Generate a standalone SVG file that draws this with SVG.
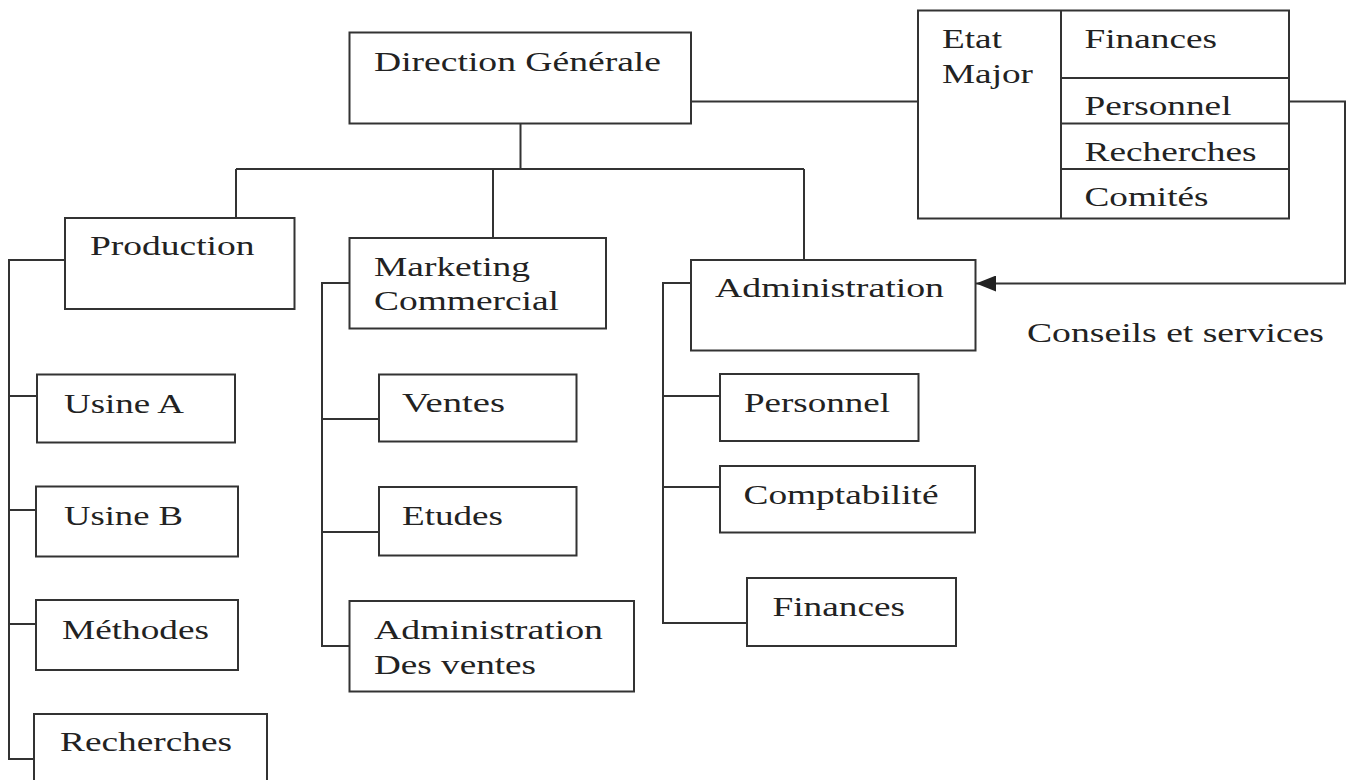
<svg xmlns="http://www.w3.org/2000/svg" width="1352" height="780" viewBox="0 0 1352 780">
<style>
.box{fill:#fff;stroke:#333;stroke-width:2}
.ln{fill:none;stroke:#333;stroke-width:2}
text{font-family:"Liberation Serif","Times New Roman",serif;font-size:28px;fill:#222}
</style>
<defs>
<marker id="arr" markerWidth="20" markerHeight="16" refX="20" refY="8" orient="auto" markerUnits="userSpaceOnUse">
<path d="M0,0 L20,8 L0,16 Z" fill="#222"/>
</marker>
</defs>
<rect width="1352" height="780" fill="#fff"/>
<g id="connectors">
<path class="ln" d="M520.5,123 V169 M236,169 H804 M236,169 V218 M493,169 V238 M804,169 V260"/>
<path class="ln" d="M691,101.5 H918"/>
<path class="ln" d="M65,260 H9 V759 H34 M9,396 H37 M9,510 H36 M9,624 H36"/>
<path class="ln" d="M349.5,283 H322 V646 H349.5 M322,419 H379 M322,532 H379"/>
<path class="ln" d="M691,283 H663 V623 H747 M663,396 H720 M663,487 H720"/>
<path class="ln" d="M1289,101.5 H1345 V283.5 H976" marker-end="url(#arr)"/>
</g>
<g id="direction-generale">
<rect class="box" x="349.5" y="32.5" width="341.5" height="91"/>
<text x="374" y="70.5" textLength="287" lengthAdjust="spacingAndGlyphs">Direction Générale</text>
</g>
<g id="etat-major">
<rect class="box" x="918" y="10.5" width="371" height="208"/>
<path class="ln" d="M1061,10.5 V218.5 M1061,78 H1289 M1061,123.5 H1289 M1061,169 H1289"/>
<text x="942" y="48" textLength="60" lengthAdjust="spacingAndGlyphs">Etat</text>
<text x="942" y="83" textLength="91" lengthAdjust="spacingAndGlyphs">Major</text>
<text x="1084.5" y="48" textLength="132.5" lengthAdjust="spacingAndGlyphs">Finances</text>
<text x="1084.5" y="115" textLength="147" lengthAdjust="spacingAndGlyphs">Personnel</text>
<text x="1084.5" y="160.5" textLength="172" lengthAdjust="spacingAndGlyphs">Recherches</text>
<text x="1084.5" y="206" textLength="124" lengthAdjust="spacingAndGlyphs">Comités</text>
</g>
<g id="production">
<rect class="box" x="65" y="218" width="229.5" height="91"/>
<text x="90" y="255" textLength="164.5" lengthAdjust="spacingAndGlyphs">Production</text>
</g>
<g id="marketing">
<rect class="box" x="349.5" y="238" width="256.5" height="90.5"/>
<text x="374" y="276" textLength="156" lengthAdjust="spacingAndGlyphs">Marketing</text>
<text x="374" y="310" textLength="185" lengthAdjust="spacingAndGlyphs">Commercial</text>
</g>
<g id="administration">
<rect class="box" x="691" y="260" width="284.5" height="90.5"/>
<text x="715" y="296.5" textLength="229" lengthAdjust="spacingAndGlyphs">Administration</text>
</g>
<g id="conseils-label">
<text x="1027" y="341.5" textLength="297" lengthAdjust="spacingAndGlyphs">Conseils et services</text>
</g>
<g id="usine-a">
<rect class="box" x="37" y="374.5" width="198" height="68"/>
<text x="64" y="412.5" textLength="120" lengthAdjust="spacingAndGlyphs">Usine A</text>
</g>
<g id="usine-b">
<rect class="box" x="36" y="486.5" width="202" height="70"/>
<text x="64" y="524.5" textLength="119" lengthAdjust="spacingAndGlyphs">Usine B</text>
</g>
<g id="methodes">
<rect class="box" x="36" y="600" width="202" height="70"/>
<text x="62" y="638.5" textLength="147" lengthAdjust="spacingAndGlyphs">Méthodes</text>
</g>
<g id="recherches">
<rect class="box" x="34" y="714" width="233" height="90"/>
<text x="60" y="751" textLength="172" lengthAdjust="spacingAndGlyphs">Recherches</text>
</g>
<g id="ventes">
<rect class="box" x="379" y="374.5" width="197.5" height="67"/>
<text x="402" y="411.5" textLength="103" lengthAdjust="spacingAndGlyphs">Ventes</text>
</g>
<g id="etudes">
<rect class="box" x="379" y="487" width="197.5" height="68.5"/>
<text x="402" y="524.5" textLength="101" lengthAdjust="spacingAndGlyphs">Etudes</text>
</g>
<g id="admin-ventes">
<rect class="box" x="349.5" y="601" width="284.5" height="90.5"/>
<text x="374" y="638.5" textLength="229" lengthAdjust="spacingAndGlyphs">Administration</text>
<text x="374" y="673.5" textLength="162" lengthAdjust="spacingAndGlyphs">Des ventes</text>
</g>
<g id="personnel">
<rect class="box" x="720" y="374" width="198.5" height="67"/>
<text x="744" y="411.5" textLength="146" lengthAdjust="spacingAndGlyphs">Personnel</text>
</g>
<g id="comptabilite">
<rect class="box" x="720" y="466" width="255" height="66.5"/>
<text x="743.5" y="503.5" textLength="195" lengthAdjust="spacingAndGlyphs">Comptabilité</text>
</g>
<g id="finances">
<rect class="box" x="747" y="578" width="209" height="68"/>
<text x="772.5" y="616" textLength="132.5" lengthAdjust="spacingAndGlyphs">Finances</text>
</g>
</svg>
